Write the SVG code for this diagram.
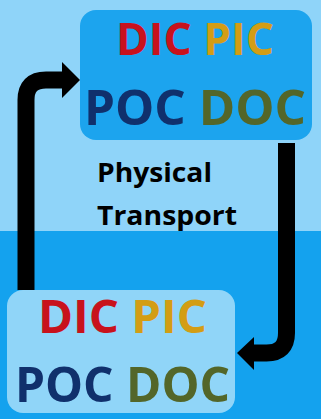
<svg xmlns="http://www.w3.org/2000/svg" width="321" height="419" viewBox="0 0 321 419">
<defs>
<style>
.t{font-family:"Open Sans","Liberation Sans",sans-serif;font-weight:bold;text-anchor:middle}
.lab{font-family:"Open Sans","Liberation Sans",sans-serif;font-weight:bold;font-size:27px;fill:#000}
.dic{fill:#c8121c}.pic{fill:#d39d14}.poc{fill:#10306c}.doc{fill:#536629}
.arr{fill:none;stroke:#000;stroke-width:17}
</style>
</defs>
<rect x="0" y="0" width="321" height="231" fill="#8fd4f9"/>
<rect x="0" y="231" width="321" height="188" fill="#14a2ee"/>
<g id="connectors">
<path class="arr" d="M26 290 V100 Q26 80 46 80 H64"/>
<polygon points="62,62 80,80 62,98" fill="#000"/>
<path class="arr" d="M286.5 143 V333 Q286.5 353 266.5 353 H252"/>
<polygon points="254,337 237,353 254,370" fill="#000"/>
</g>
<g id="surface">
<rect x="80" y="10" width="232" height="130" rx="16" fill="#1ca4ee"/>
<text class="t" font-size="45" x="195" y="55" textLength="158" lengthAdjust="spacingAndGlyphs"><tspan class="dic">DIC</tspan> <tspan class="pic">PIC</tspan></text>
<text class="t" font-size="49" x="195" y="125" textLength="222" lengthAdjust="spacingAndGlyphs"><tspan class="poc">POC</tspan> <tspan class="doc">DOC</tspan></text>
</g>
<g id="label">
<text class="lab" x="97" y="182" textLength="115" lengthAdjust="spacingAndGlyphs">Physical</text>
<text class="lab" x="97" y="225" textLength="140" lengthAdjust="spacingAndGlyphs">Transport</text>
</g>
<g id="deep">
<rect x="7" y="290" width="228" height="123" rx="16" fill="#90d5f8"/>
<text class="t" font-size="46" x="122.5" y="333" textLength="169" lengthAdjust="spacingAndGlyphs"><tspan class="dic">DIC</tspan> <tspan class="pic">PIC</tspan></text>
<text class="t" font-size="49" x="122.5" y="402" textLength="215" lengthAdjust="spacingAndGlyphs"><tspan class="poc">POC</tspan> <tspan class="doc">DOC</tspan></text>
</g>
</svg>
